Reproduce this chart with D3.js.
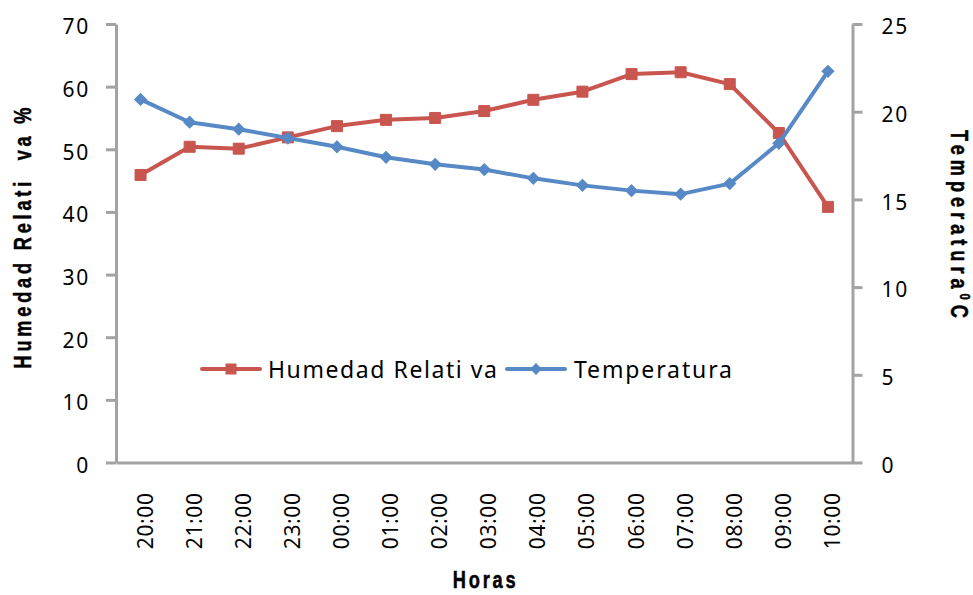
<!DOCTYPE html>
<html>
<head>
<meta charset="utf-8">
<script src="https://cdn.jsdelivr.net/npm/d3@7"></script>
<style>
  html, body { margin: 0; padding: 0; background: #fff; }
  svg { display: block; }
</style>
</head>
<body>
<div id="chart"></div>
<script>
// Hourly readings: relative humidity (%) on the left axis, temperature (°C) on the right
const categories = ["20:00","21:00","22:00","23:00","00:00","01:00","02:00","03:00",
                    "04:00","05:00","06:00","07:00","08:00","09:00","10:00"];
const humedad = [45.9, 50.4, 50.1, 51.9, 53.7, 54.7, 55.0, 56.1, 57.9, 59.2, 62.0, 62.3, 60.4, 52.6, 40.8];
const temperatura = [20.7, 19.4, 19.0, 18.5, 18.0, 17.4, 17.0, 16.7, 16.2, 15.8, 15.5, 15.3, 15.9, 18.2, 22.3];
const leftTicks = [0, 10, 20, 30, 40, 50, 60, 70];
const rightTicks = [0, 5, 10, 15, 20, 25];
const seriesNames = ["Humedad Relati va", "Temperatura"];

const W = 973, H = 595;
const RED = "#C9554F", BLUE = "#5689C6", AXIS = "#A3A3A3";
const tickFont = "'Noto Sans', 'Open Sans', sans-serif";
const titleFont = "'Liberation Sans', Arial, sans-serif";

const plot = { left: 116, right: 852.5, top: 24, bottom: 462.5 };

const svg = d3.select("#chart").append("svg")
  .attr("width", W).attr("height", H);

const x = d3.scaleBand().domain(categories).range([plot.left, plot.right]).padding(0);
const cx = d => x(d) + x.bandwidth() / 2;
const yL = d3.scaleLinear().domain([0, 70]).range([plot.bottom, plot.top]);
const yR = d3.scaleLinear().domain([0, 25]).range([plot.bottom, plot.top]);

function styleAxis(g) {
  g.selectAll(".domain").attr("stroke", AXIS).attr("stroke-width", 3);
  g.selectAll(".tick line").attr("stroke", AXIS).attr("stroke-width", 3);
  g.selectAll(".tick text")
    .attr("fill", "#000")
    .style("font-family", tickFont)
    .style("font-size", "21px")
    .style("letter-spacing", "1.8px");
}

// Left axis (humidity)
const gL = svg.append("g")
  .attr("transform", `translate(${plot.left},0)`)
  .call(d3.axisLeft(yL).tickValues(leftTicks).tickSize(10).tickSizeOuter(0).tickPadding(16));
styleAxis(gL);
gL.selectAll(".tick text").attr("dy", "0.47em");

// Right axis (temperature)
const gR = svg.append("g")
  .attr("transform", `translate(${plot.right},0)`)
  .call(d3.axisRight(yR).tickValues(rightTicks).tickSize(10).tickSizeOuter(0).tickPadding(19));
styleAxis(gR);
gR.selectAll(".tick text").attr("dy", "0.47em");

// Category axis: line only, rotated hour labels
const gX = svg.append("g")
  .attr("transform", `translate(0,${plot.bottom})`)
  .call(d3.axisBottom(x).tickSize(0).tickSizeOuter(0).tickFormat(""));
gX.selectAll(".domain").attr("stroke", AXIS).attr("stroke-width", 3);

svg.append("g").selectAll("text")
  .data(categories)
  .join("text")
  .attr("transform", d => `translate(${cx(d) + 12},${plot.bottom + 30}) rotate(-90)`)
  .attr("text-anchor", "end")
  .style("font-family", tickFont)
  .style("font-size", "21px")
  .style("letter-spacing", "0.6px")
  .attr("fill", "#000")
  .text(d => d);

// Series lines
const lineL = d3.line().x((d, i) => cx(categories[i])).y(d => yL(d));
const lineR = d3.line().x((d, i) => cx(categories[i])).y(d => yR(d));

svg.append("path").datum(humedad)
  .attr("d", lineL).attr("fill", "none")
  .attr("stroke", RED).attr("stroke-width", 4).attr("stroke-linejoin", "round");

const square = d3.symbol().type(d3.symbolSquare).size(121);
const diamond = d3.symbol().type(d3.symbolSquare).size(70);

svg.append("g").selectAll("path")
  .data(humedad)
  .join("path")
  .attr("d", square)
  .attr("transform", (d, i) => `translate(${cx(categories[i])},${yL(d)})`)
  .attr("fill", RED).attr("stroke", RED).attr("stroke-width", 1).attr("stroke-linejoin", "round");

svg.append("path").datum(temperatura)
  .attr("d", lineR).attr("fill", "none")
  .attr("stroke", BLUE).attr("stroke-width", 4).attr("stroke-linejoin", "round");

svg.append("g").selectAll("path")
  .data(temperatura)
  .join("path")
  .attr("d", diamond)
  .attr("transform", (d, i) => `translate(${cx(categories[i])},${yR(d)}) rotate(45)`)
  .attr("fill", BLUE).attr("stroke", BLUE).attr("stroke-width", 1);

// Legend
const legend = [
  { name: seriesNames[0], color: RED, sym: square, rot: 0, x0: 202, textX: 268, len: 229 },
  { name: seriesNames[1], color: BLUE, sym: diamond, rot: 45, x0: 507, textX: 574, len: 158 }
];
const lg = svg.append("g").selectAll("g").data(legend).join("g");
lg.append("line")
  .attr("x1", d => d.x0).attr("x2", d => d.x0 + 58)
  .attr("y1", 369).attr("y2", 369)
  .attr("stroke", d => d.color).attr("stroke-width", 4).attr("stroke-linecap", "round");
lg.append("path")
  .attr("d", d => d.sym())
  .attr("transform", d => `translate(${d.x0 + 29},369) rotate(${d.rot})`)
  .attr("fill", d => d.color);
lg.append("text")
  .attr("x", d => d.textX).attr("y", 378)
  .attr("textLength", d => d.len).attr("lengthAdjust", "spacing")
  .style("font-family", tickFont)
  .style("font-size", "23px")
  .attr("fill", "#000")
  .style("white-space", "pre")
  .text(d => d.name);

// Axis titles: bold, horizontally condensed
const condense = 0.76;
function title(transform, len) {
  return svg.append("text")
    .attr("transform", `${transform} scale(${condense},1)`)
    .attr("text-anchor", "middle")
    .attr("textLength", len / condense).attr("lengthAdjust", "spacing")
    .attr("fill", "#000").attr("stroke", "#000").attr("stroke-width", 0.5)
    .style("font-family", titleFont).style("font-weight", "bold")
    .style("font-size", "24px")
    .style("white-space", "pre");
}

title(`translate(${(plot.left + plot.right) / 2},588)`, 63).text("Horas");
title(`translate(31,238) rotate(-90)`, 261).text("Humedad Relati  va %");

const tR = title(`translate(951,224) rotate(90)`, 188);
tR.append("tspan").text("Temperatura");
tR.append("tspan").attr("dy", -9).style("font-size", "15px").text("0");
tR.append("tspan").attr("dy", 9).text("C");
</script>
</body>
</html>
